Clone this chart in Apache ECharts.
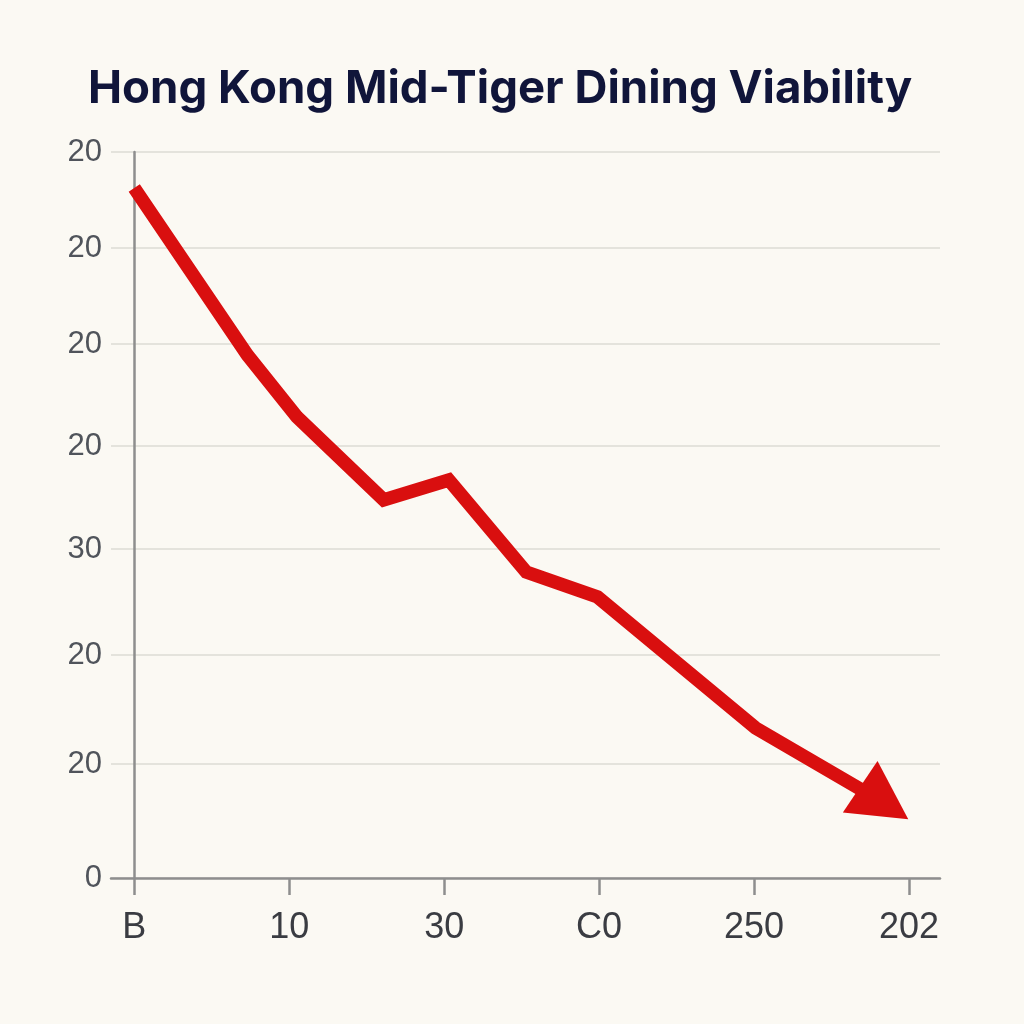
<!DOCTYPE html>
<html>
<head>
<meta charset="utf-8">
<title>Hong Kong Mid-Tiger Dining Viability</title>
<script src="https://cdn.jsdelivr.net/npm/echarts@6/dist/echarts.min.js"></script>
<style>
  html, body { margin: 0; padding: 0; background: #fbf9f3; }
  #chart { width: 1024px; height: 1024px; }
</style>
</head>
<body>
<div id="chart"></div>
<script>
// tick positions and the (odd) labels as printed on the reference
var xTickValues = [0, 1, 2, 3, 4, 5]
var xTickLabels = ['B', '10', '30', 'C0', '250', '202']
var yTickValues = [0, 114, 223, 329, 432, 534, 630, 726]
var yTickLabels = ['0', '20', '20', '30', '20', '20', '20', '20']

// line vertices, last one is where the arrow head sits
var lineX = [0, 0.73, 1.05, 1.61, 2.03, 2.53, 2.99, 4.01, 4.84]
var lineY = [690, 523, 461, 378, 398, 306, 281, 150, 75]

var RED = '#d90f0f'
var AXIS = '#8e8e8e'

var chart = echarts.init(document.getElementById('chart'))

var seriesData = lineX.map(function (x, i) {
  var item = { value: [x, lineY[i]] }
  if (i === lineX.length - 1) {
    item.symbol = 'triangle'
    item.symbolSize = [62, 58]
    item.symbolRotate = -124
    item.itemStyle = { color: RED }
  }
  return item
})

var option = {
  backgroundColor: '#fbf9f3',
  animation: false,
  title: {
    text: 'Hong Kong Mid-Tiger Dining Viability',
    left: 88,
    top: 66,
    padding: 0,
    textStyle: {
      fontFamily: 'Inter',
      fontWeight: 700,
      fontSize: 45.6,
      color: '#10153a'
    }
  },
  grid: { left: 111, right: 84, top: 152, bottom: 146 },
  xAxis: {
    type: 'value',
    min: -0.15,
    max: 5.2,
    axisLine: { lineStyle: { color: AXIS, width: 2.5 } },
    axisTick: {
      show: true,
      length: 17,
      customValues: xTickValues,
      lineStyle: { color: AXIS, width: 2.5 }
    },
    axisLabel: {
      customValues: xTickValues,
      margin: 32,
      fontFamily: 'Liberation Sans',
      fontSize: 36,
      color: '#3a3c42',
      formatter: function (v) {
        var i = xTickValues.indexOf(v)
        return i >= 0 ? xTickLabels[i] : ''
      }
    },
    splitLine: { show: false }
  },
  yAxis: {
    type: 'value',
    min: 0,
    max: 726,
    axisLine: { show: true, lineStyle: { color: AXIS, width: 2.5 } },
    axisTick: { show: false, customValues: yTickValues },
    axisLabel: {
      customValues: yTickValues,
      margin: 9,
      fontFamily: 'Liberation Sans',
      fontSize: 31,
      color: '#50545b',
      formatter: function (v) {
        var i = yTickValues.indexOf(v)
        return i >= 0 ? yTickLabels[i] : ''
      }
    },
    splitLine: { show: true, lineStyle: { color: '#dddbd5', width: 1.5 } }
  },
  series: [{
    type: 'line',
    symbol: 'none',
    data: seriesData,
    lineStyle: { color: RED, width: 13.5, join: 'miter' },
    itemStyle: { color: RED },
    z: 5
  }]
}

chart.setOption(option)
</script>
</body>
</html>
